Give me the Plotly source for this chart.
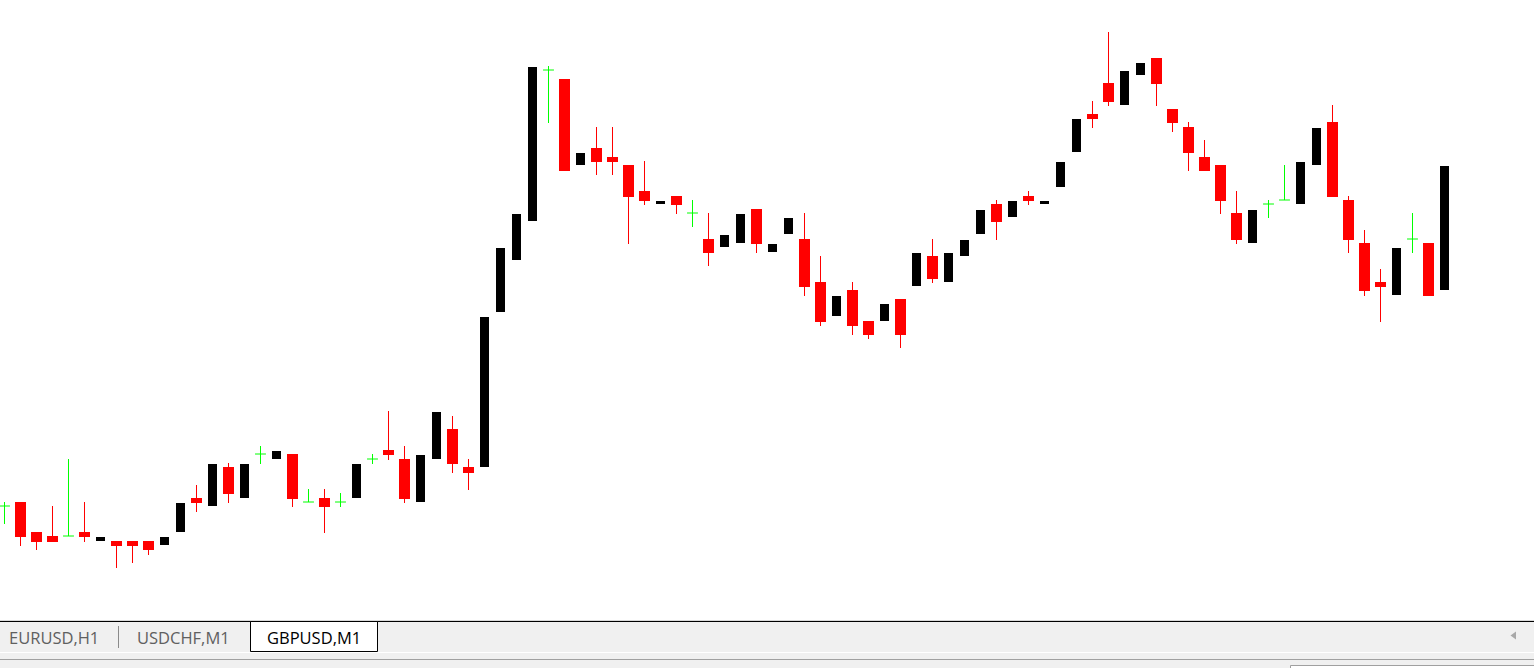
"""
plot.py — graphique en chandeliers GBPUSD,M1 façon MetaTrader.
"""

import plotly.graph_objects as go

W, H = 1534, 668

# ──────────────────────────────────────────
# DONNÉES (prix)
# ──────────────────────────────────────────

opens = [
    1.29494, 1.29498, 1.29468, 1.29464, 1.29464, 1.29468, 1.29459, 1.29459, 1.29459, 1.29459,
    1.29455, 1.29468, 1.29502, 1.29494, 1.29533, 1.29502, 1.29546, 1.29541, 1.29546, 1.29498,
    1.29502, 1.29498, 1.29502, 1.29541, 1.29550, 1.29541, 1.29498, 1.29541, 1.29571, 1.29533,
    1.29533, 1.29688, 1.29740, 1.29779, 1.29930, 1.29921, 1.29835, 1.29852, 1.29843, 1.29835,
    1.29809, 1.29796, 1.29804, 1.29787, 1.29761, 1.29753, 1.29757, 1.29791, 1.29748, 1.29766,
    1.29761, 1.29718, 1.29684, 1.29710, 1.29679, 1.29679, 1.29701, 1.29714, 1.29744, 1.29718,
    1.29744, 1.29766, 1.29796, 1.29783, 1.29804, 1.29796, 1.29813, 1.29848, 1.29886, 1.29917,
    1.29895, 1.29925, 1.29942, 1.29891, 1.29873, 1.29843, 1.29835, 1.29787, 1.29757, 1.29796,
    1.29800, 1.29796, 1.29835, 1.29878, 1.29800, 1.29757, 1.29718, 1.29705, 1.29761, 1.29757,
    1.29710,
]
highs = [
    1.29498, 1.29498, 1.29468, 1.29494, 1.29541, 1.29498, 1.29463, 1.29459, 1.29459, 1.29459,
    1.29463, 1.29497, 1.29515, 1.29536, 1.29537, 1.29536, 1.29554, 1.29549, 1.29546, 1.29511,
    1.29511, 1.29507, 1.29536, 1.29546, 1.29589, 1.29554, 1.29545, 1.29588, 1.29584, 1.29541,
    1.29683, 1.29752, 1.29786, 1.29933, 1.29934, 1.29921, 1.29847, 1.29873, 1.29873, 1.29835,
    1.29839, 1.29799, 1.29804, 1.29800, 1.29787, 1.29765, 1.29786, 1.29791, 1.29756, 1.29782,
    1.29787, 1.29744, 1.29704, 1.29718, 1.29679, 1.29696, 1.29701, 1.29747, 1.29761, 1.29747,
    1.29760, 1.29790, 1.29800, 1.29799, 1.29809, 1.29799, 1.29838, 1.29881, 1.29899, 1.29968,
    1.29929, 1.29937, 1.29942, 1.29891, 1.29878, 1.29860, 1.29835, 1.29809, 1.29790, 1.29800,
    1.29835, 1.29838, 1.29872, 1.29895, 1.29804, 1.29770, 1.29731, 1.29752, 1.29787, 1.29757,
    1.29834,
]
lows = [
    1.29476, 1.29454, 1.29450, 1.29458, 1.29464, 1.29458, 1.29459, 1.29432, 1.29437, 1.29445,
    1.29455, 1.29468, 1.29488, 1.29494, 1.29497, 1.29502, 1.29536, 1.29541, 1.29493, 1.29498,
    1.29467, 1.29493, 1.29502, 1.29536, 1.29540, 1.29497, 1.29498, 1.29541, 1.29527, 1.29510,
    1.29533, 1.29688, 1.29740, 1.29779, 1.29877, 1.29829, 1.29835, 1.29825, 1.29825, 1.29756,
    1.29795, 1.29796, 1.29786, 1.29773, 1.29734, 1.29753, 1.29757, 1.29747, 1.29748, 1.29766,
    1.29704, 1.29674, 1.29684, 1.29665, 1.29661, 1.29679, 1.29652, 1.29714, 1.29717, 1.29718,
    1.29744, 1.29766, 1.29760, 1.29783, 1.29795, 1.29796, 1.29813, 1.29848, 1.29872, 1.29894,
    1.29895, 1.29925, 1.29894, 1.29868, 1.29829, 1.29829, 1.29786, 1.29756, 1.29757, 1.29782,
    1.29800, 1.29796, 1.29835, 1.29803, 1.29747, 1.29704, 1.29678, 1.29705, 1.29747, 1.29704,
    1.29710,
]
closes = [
    1.29494, 1.29463, 1.29458, 1.29458, 1.29464, 1.29463, 1.29463, 1.29454, 1.29454, 1.29450,
    1.29463, 1.29497, 1.29497, 1.29536, 1.29506, 1.29536, 1.29546, 1.29549, 1.29501, 1.29498,
    1.29493, 1.29498, 1.29536, 1.29541, 1.29545, 1.29501, 1.29545, 1.29588, 1.29536, 1.29527,
    1.29683, 1.29752, 1.29786, 1.29933, 1.29930, 1.29829, 1.29847, 1.29838, 1.29838, 1.29803,
    1.29799, 1.29799, 1.29795, 1.29787, 1.29747, 1.29765, 1.29786, 1.29756, 1.29756, 1.29782,
    1.29713, 1.29678, 1.29704, 1.29674, 1.29665, 1.29696, 1.29665, 1.29747, 1.29721, 1.29747,
    1.29760, 1.29790, 1.29778, 1.29799, 1.29799, 1.29799, 1.29838, 1.29881, 1.29881, 1.29898,
    1.29929, 1.29937, 1.29916, 1.29877, 1.29847, 1.29829, 1.29799, 1.29760, 1.29790, 1.29796,
    1.29800, 1.29838, 1.29872, 1.29803, 1.29760, 1.29709, 1.29713, 1.29752, 1.29761, 1.29704,
    1.29834,
]

tab_labels = ["EURUSD,H1", "USDCHF,M1", "GBPUSD,M1"]

BULL = "#000000"
BEAR = "#ff0000"
DOJI = "#00ff00"

# ──────────────────────────────────────────
# CONSTRUCTION DES TRACES
# ──────────────────────────────────────────

bodies = {"bull": ([], [], []), "bear": ([], [], [])}
wicks = {"bear": ([], []), "doji": ([], [])}
ticks_x, ticks_y = [], []

for i, (o, h, l, c) in enumerate(zip(opens, highs, lows, closes)):
    if c > o:
        kind = "bull"
    elif c < o:
        kind = "bear"
    else:
        kind = "doji"
    if kind != "doji":
        xs, bs, hs = bodies[kind]
        xs.append(i)
        bs.append(min(o, c))
        hs.append(abs(c - o))
    if kind != "bull":
        wx, wy = wicks[kind]
        wx += [i, i, None]
        wy += [h, l, None]
    if kind == "doji":
        ticks_x += [i - 0.34, i + 0.34, None]
        ticks_y += [o, o, None]

fig = go.Figure()

for kind, color in (("bear", BEAR), ("doji", DOJI)):
    wx, wy = wicks[kind]
    fig.add_trace(go.Scatter(x=wx, y=wy, mode="lines",
                             line=dict(color=color, width=1), hoverinfo="skip"))

fig.add_trace(go.Scatter(x=ticks_x, y=ticks_y, mode="lines",
                         line=dict(color=DOJI, width=1), hoverinfo="skip"))

for kind, color, width in (("bear", BEAR, 11 / 16), ("bull", BULL, 9 / 16)):
    xs, bs, hs = bodies[kind]
    fig.add_trace(go.Bar(x=xs, y=hs, base=bs, width=width,
                         marker=dict(color=color, line=dict(width=0))))

# ──────────────────────────────────────────
# BARRE D'ONGLETS (coordonnées papier)
# ──────────────────────────────────────────


def px(x):
    return x / W


def py(y):
    return 1 - y / H


shapes = [
    dict(type="rect", xref="paper", yref="paper", x0=0, x1=1, y0=py(H), y1=py(620.5),
         fillcolor="#f0f0f0", line=dict(width=0), layer="above"),
    dict(type="line", xref="paper", yref="paper", x0=0, x1=1, y0=py(620.5), y1=py(620.5),
         line=dict(color="#d9d9d9", width=1), layer="above"),
    dict(type="line", xref="paper", yref="paper", x0=0, x1=1, y0=py(621.5), y1=py(621.5),
         line=dict(color="#000000", width=1), layer="above"),
    dict(type="line", xref="paper", yref="paper", x0=0, x1=1, y0=py(652.5), y1=py(652.5),
         line=dict(color="#ffffff", width=1), layer="above"),
    dict(type="line", xref="paper", yref="paper", x0=0, x1=1, y0=py(659.5), y1=py(659.5),
         line=dict(color="#a0a0a0", width=1), layer="above"),
    dict(type="line", xref="paper", yref="paper", x0=px(118.5), x1=px(118.5),
         y0=py(626), y1=py(648), line=dict(color="#8a8a8a", width=1), layer="above"),
    dict(type="rect", xref="paper", yref="paper", x0=px(250.5), x1=px(377.5),
         y0=py(651.5), y1=py(621.5), fillcolor="#ffffff",
         line=dict(color="#000000", width=1), layer="above"),
    dict(type="rect", xref="paper", yref="paper", x0=px(1290.5), x1=px(1540),
         y0=py(672), y1=py(665.5), fillcolor="#ffffff",
         line=dict(color="#a0a0a0", width=1), layer="above"),
    dict(type="path", xref="paper", yref="paper",
         path=f"M {px(1516)} {py(631.5)} L {px(1510.5)} {py(635.5)} L {px(1516)} {py(639.5)} Z",
         fillcolor="#a8a8a8", line=dict(width=0), layer="above"),
]

annotations = []
for label, cx, color in zip(tab_labels, (54, 183, 314), ("#5f6060", "#5f6060", "#000000")):
    annotations.append(dict(
        text=label, x=px(cx), y=py(637), xref="paper", yref="paper",
        xanchor="center", yanchor="middle", showarrow=False,
        font=dict(family="Open Sans, Noto Sans, sans-serif", size=16.5, color=color),
    ))

fig.update_layout(
    width=W, height=H,
    margin=dict(l=0, r=0, t=0, b=0),
    paper_bgcolor="white", plot_bgcolor="white",
    showlegend=False, barmode="overlay", bargap=0,
    hovermode=False,
    xaxis=dict(range=[-4.5 / 16, (W - 4.5) / 16], visible=False, fixedrange=True),
    yaxis=dict(range=[1.29380, 1.30000], domain=[py(620), 1], visible=False, fixedrange=True),
    shapes=shapes, annotations=annotations,
)

fig.write_html(
    "out.html",
    config={"displayModeBar": False},
    post_script="document.body.style.margin='0';document.body.style.overflow='hidden';",
)
